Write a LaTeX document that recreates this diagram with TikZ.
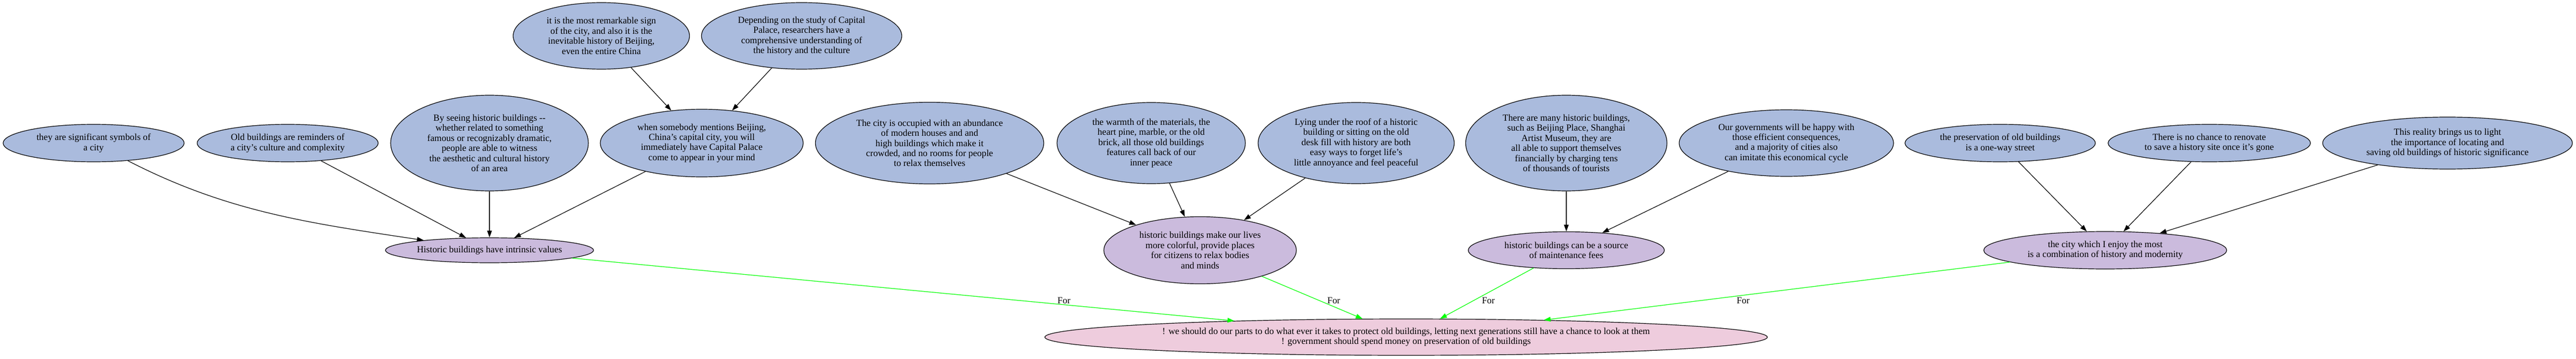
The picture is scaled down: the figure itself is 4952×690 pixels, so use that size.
\documentclass[tikz,border=0pt]{standalone}
\usepackage{fontspec}
\setmainfont{Liberation Serif}
\usetikzlibrary{shapes.geometric,arrows.meta}
\definecolor{reasonblue}{HTML}{AABBDD}
\definecolor{claimlilac}{HTML}{CBBBDD}
\definecolor{thesispink}{HTML}{EECCDD}
\definecolor{forgreen}{HTML}{00FF00}

\begin{document}
\begin{tikzpicture}[x=1pt,y=-1pt,
  bubble/.style={ellipse,draw=black,line width=1.2pt,inner sep=0pt,align=center,
    font=\fontsize{17.8}{19.4}\selectfont},
  reason/.style={bubble,fill=reasonblue},
  claim/.style={bubble,fill=claimlilac},
  thesis/.style={bubble,fill=thesispink},
  link/.style={-{Triangle[length=13pt,width=9pt]},line width=1.2pt},
  pro/.style={link,draw=forgreen},
  prolabel/.style={inner sep=0pt,text=black,font=\fontsize{17.8}{19.4}\selectfont}]
\useasboundingbox (0,0) rectangle (4952,690);

\node[reason,minimum width=339pt,minimum height=128pt] (sign) at (1156,69) {it is the most remarkable sign\\of the city, and also it is the\\inevitable history of Beijing,\\even the entire China};
\node[reason,minimum width=385pt,minimum height=128pt] (study) at (1541,69) {Depending on the study of Capital\\Palace, researchers have a\\comprehensive understanding of\\the history and the culture};

\node[reason,minimum width=348pt,minimum height=72pt] (symbols) at (180,275) {they are significant symbols of\\a city};
\node[reason,minimum width=348pt,minimum height=72pt] (reminders) at (553,275) {Old buildings are reminders of\\a city's culture and complexity};
\node[reason,minimum width=380pt,minimum height=184pt] (seeing) at (941,275) {By seeing historic buildings -{}-\\whether related to something\\famous or recognizably dramatic,\\people are able to witness\\the aesthetic and cultural history\\of an area};
\node[reason,minimum width=390pt,minimum height=130pt] (beijing) at (1349,275) {when somebody mentions Beijing,\\China's capital city, you will\\immediately have Capital Palace\\come to appear in your mind};
\node[reason,minimum width=439pt,minimum height=157pt] (crowded) at (1787,275) {The city is occupied with an abundance\\of modern houses and and\\high buildings which make it\\crowded, and no rooms for people\\to relax themselves};
\node[reason,minimum width=362pt,minimum height=156pt] (warmth) at (2213,275) {the warmth of the materials, the\\heart pine, marble, or the old\\brick, all those old buildings\\features call back of our\\inner peace};
\node[reason,minimum width=377pt,minimum height=156pt] (roof) at (2607,275) {Lying under the roof of a historic\\building or sitting on the old\\desk fill with history are both\\easy ways to forget life's\\little annoyance and feel peaceful};
\node[reason,minimum width=387pt,minimum height=184pt] (museum) at (3011,275) {There are many historic buildings,\\such as Beijing Place, Shanghai\\Artist Museum, they are\\all able to support themselves\\financially by charging tens\\of thousands of tourists};
\node[reason,minimum width=412pt,minimum height=128pt] (cycle) at (3434,275) {Our governments will be happy with\\those efficient consequences,\\and a majority of cities also\\can imitate this economical cycle};
\node[reason,minimum width=366pt,minimum height=72pt] (oneway) at (3845,275) {the preservation of old buildings\\is a one-way street};
\node[reason,minimum width=389pt,minimum height=72pt] (gone) at (4247,275) {There is no chance to renovate\\to save a history site once it's gone};
\node[reason,minimum width=480pt,minimum height=100pt] (light) at (4705,275) {This reality brings us to light\\the importance of locating and\\saving old buildings of historic significance};

\node[claim,minimum width=400pt,minimum height=48pt] (values) at (941,481) {Historic buildings have intrinsic values};
\node[claim,minimum width=370pt,minimum height=129pt] (lives) at (2307,481) {historic buildings make our lives\\more colorful, provide places\\for citizens to relax bodies\\and minds};
\node[claim,minimum width=377pt,minimum height=71pt] (fees) at (3011,481) {historic buildings can be a source\\of maintenance fees};
\node[claim,minimum width=467pt,minimum height=72pt] (modern) at (4047,481) {the city which I enjoy the most\\is a combination of history and modernity};

\node[thesis,minimum width=1389pt,minimum height=70pt] (protect) at (2703,648) {! we should do our parts to do what ever it takes to protect old buildings, letting next generations still have a chance to look at them\\! government should spend money on preservation of old buildings};

\draw[link] (sign) -- (beijing);
\draw[link] (study) -- (beijing);
\draw[link] (symbols) .. controls (438,408) and (597,429) .. (values);
\draw[link] (reminders) -- (values);
\draw[link] (seeing) -- (values);
\draw[link] (beijing) -- (values);
\draw[link] (crowded) -- (lives);
\draw[link] (warmth) -- (lives);
\draw[link] (roof) -- (lives);
\draw[link] (museum) -- (fees);
\draw[link] (cycle) -- (fees);
\draw[link] (oneway) -- (modern);
\draw[link] (gone) -- (modern);
\draw[link] (light) -- (modern);

\draw[pro] (values) -- node[prolabel,pos=0.68,xshift=80pt] {For} (protect);
\draw[pro] (lives) -- node[prolabel,pos=0.57,xshift=28pt] {For} (protect);
\draw[pro] (fees) -- node[prolabel,pos=0.645,xshift=29pt] {For} (protect);
\draw[pro] (modern) -- node[prolabel,pos=0.664,xshift=82pt] {For} (protect);
\end{tikzpicture}
\end{document}
